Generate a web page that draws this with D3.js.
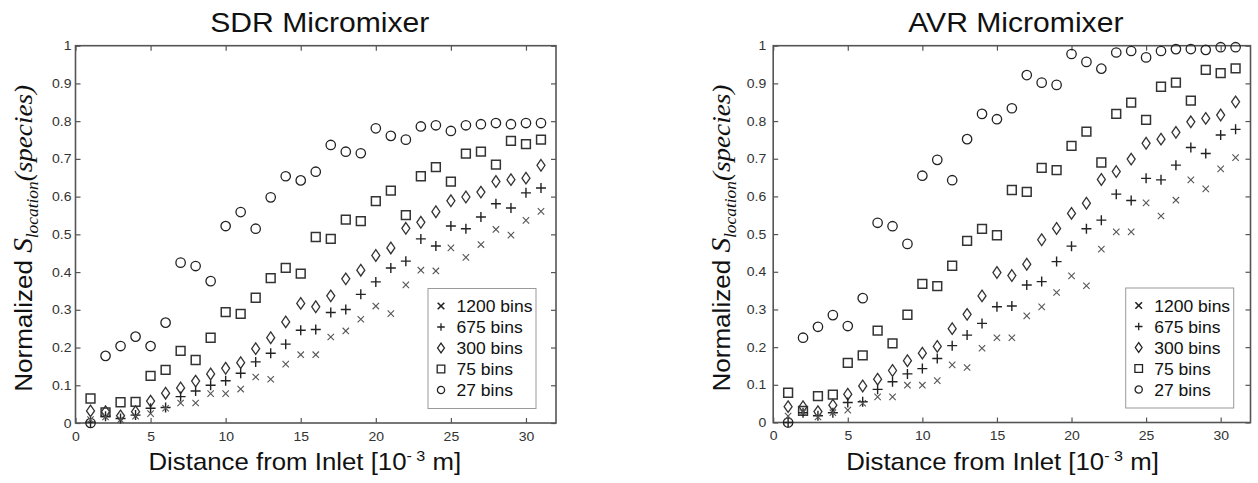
<!DOCTYPE html>
<html><head><meta charset="utf-8">
<script src="https://cdn.jsdelivr.net/npm/d3@7/dist/d3.min.js"></script>
<style>body{margin:0;background:#fff}svg{display:block}</style>
</head><body>
<svg id="chart" width="1258" height="483"></svg>
<script>
// ---------- data ----------
const distance = [1,2,3,4,5,6,7,8,9,10,11,12,13,14,15,16,17,18,19,20,21,22,23,24,25,26,27,28,29,30,31];
const titles = ["SDR Micromixer", "AVR Micromixer"];
const legendLabels = ["1200 bins", "675 bins", "300 bins", "75 bins", "27 bins"];
const xTicks = [0,5,10,15,20,25,30];
const yTicks = [0,0.1,0.2,0.3,0.4,0.5,0.6,0.7,0.8,0.9,1];

const sdr1200 = [0.009,0.016,0.009,0.018,0.025,0.039,0.053,0.053,0.078,0.078,0.090,0.122,0.116,0.156,0.181,0.181,0.228,0.244,0.275,0.310,0.290,0.366,0.405,0.403,0.464,0.439,0.473,0.513,0.498,0.537,0.561];
const sdr675  = [0.002,0.018,0.012,0.021,0.039,0.041,0.070,0.085,0.100,0.112,0.132,0.162,0.185,0.209,0.246,0.248,0.293,0.301,0.341,0.374,0.411,0.429,0.488,0.469,0.522,0.515,0.546,0.581,0.570,0.610,0.623];
const sdr300  = [0.032,0.030,0.019,0.030,0.058,0.079,0.093,0.111,0.130,0.145,0.160,0.197,0.226,0.268,0.317,0.308,0.337,0.382,0.405,0.444,0.464,0.516,0.532,0.560,0.589,0.599,0.612,0.640,0.645,0.649,0.683];
const sdr75   = [0.065,0.028,0.055,0.056,0.125,0.141,0.191,0.167,0.226,0.294,0.289,0.332,0.384,0.411,0.396,0.493,0.488,0.539,0.535,0.588,0.616,0.551,0.654,0.678,0.640,0.714,0.719,0.685,0.748,0.739,0.751];
const sdr27   = [0.000,0.178,0.204,0.229,0.204,0.266,0.425,0.416,0.376,0.522,0.559,0.515,0.598,0.654,0.643,0.666,0.737,0.719,0.715,0.781,0.761,0.751,0.786,0.789,0.774,0.789,0.792,0.795,0.792,0.795,0.795];

const avr1200 = [0.017,0.027,0.015,0.026,0.033,0.051,0.068,0.068,0.099,0.099,0.111,0.153,0.146,0.197,0.225,0.225,0.283,0.307,0.345,0.389,0.363,0.460,0.506,0.506,0.583,0.548,0.590,0.644,0.620,0.673,0.703];
const avr675  = [0.000,0.026,0.018,0.026,0.053,0.055,0.088,0.108,0.129,0.143,0.170,0.204,0.232,0.263,0.307,0.309,0.365,0.374,0.427,0.468,0.514,0.537,0.606,0.589,0.648,0.644,0.683,0.730,0.714,0.763,0.778];
const avr300  = [0.042,0.042,0.029,0.046,0.075,0.097,0.115,0.138,0.164,0.184,0.202,0.249,0.287,0.336,0.398,0.390,0.420,0.485,0.515,0.555,0.582,0.645,0.666,0.699,0.741,0.752,0.770,0.798,0.807,0.816,0.851];
const avr75   = [0.079,0.031,0.070,0.074,0.158,0.178,0.244,0.210,0.286,0.368,0.362,0.416,0.482,0.514,0.497,0.617,0.612,0.676,0.670,0.734,0.772,0.690,0.819,0.849,0.803,0.891,0.902,0.854,0.936,0.927,0.940];
const avr27   = [0.000,0.225,0.254,0.285,0.256,0.330,0.530,0.521,0.474,0.655,0.697,0.643,0.752,0.819,0.805,0.834,0.922,0.902,0.896,0.978,0.957,0.939,0.982,0.986,0.969,0.986,0.991,0.991,0.989,0.996,0.996];

// ---------- layout / style ----------
const SANS = "'Liberation Sans', Arial, Helvetica, sans-serif";
const SERIF = "'Liberation Serif', 'Times New Roman', serif";
const STRETCH = 1.075;
const panels = [
  {left: 75.5, right: 556, top: 45.7, bottom: 423, yPad: 4, title: titles[0],
   series: [sdr1200, sdr675, sdr300, sdr75, sdr27]},
  {left: 773.2, right: 1250.5, top: 45.7, bottom: 422.5, yPad: 7, title: titles[1],
   series: [avr1200, avr675, avr300, avr75, avr27]}
];
const markerKinds = ["x", "plus", "diamond", "square", "circle"];
const markerStyle = {
  x:       {size: 3.2, stroke: "#555", width: 1.1},
  plus:    {size: 5.0, stroke: "#222", width: 1.4},
  diamond: {size: 4.0, stroke: "#333", width: 1.3},
  square:  {size: 4.4, stroke: "#333", width: 1.5},
  circle:  {size: 4.7, stroke: "#222", width: 1.3}
};
function markerPath(kind, cx, cy, s) {
  const p = d3.path();
  if (kind === "x") { p.moveTo(cx-s, cy-s); p.lineTo(cx+s, cy+s); p.moveTo(cx-s, cy+s); p.lineTo(cx+s, cy-s); }
  else if (kind === "plus") { p.moveTo(cx-s, cy); p.lineTo(cx+s, cy); p.moveTo(cx, cy-s); p.lineTo(cx, cy+s); }
  else if (kind === "diamond") { const h = s*1.45; p.moveTo(cx, cy-h); p.lineTo(cx+s, cy); p.lineTo(cx, cy+h); p.lineTo(cx-s, cy); p.closePath(); }
  else if (kind === "square") { p.rect(cx-s, cy-s, 2*s, 2*s); }
  else { p.arc(cx, cy, s, 0, 2*Math.PI); p.closePath(); }
  return p.toString();
}
function stretch(sel, k) {
  sel.each(function() {
    const w = this.getComputedTextLength();
    if (w > 0) { this.setAttribute("textLength", (w*k).toFixed(2)); this.setAttribute("lengthAdjust", "spacingAndGlyphs"); }
  });
}

const svg = d3.select("#chart");
svg.append("rect").attr("width", 1258).attr("height", 483).attr("fill", "#fff");

panels.forEach(cfg => {
  const g = svg.append("g");
  const x = d3.scaleLinear().domain([0, 32]).range([cfg.left, cfg.right]);
  const y = d3.scaleLinear().domain([0, 1]).range([cfg.bottom, cfg.top]);
  const yFmt = d => (d === 0 ? "0" : d === 1 ? "1" : d3.format(".1f")(d));

  const axes = [
    g.append("g").attr("transform", `translate(0,${cfg.bottom})`)
      .call(d3.axisBottom(x).tickValues(xTicks).tickSizeInner(-5).tickSizeOuter(0).tickPadding(9).tickFormat(d3.format("d"))),
    g.append("g").attr("transform", `translate(0,${cfg.top})`)
      .call(d3.axisTop(x).tickValues(xTicks).tickSizeInner(-5).tickSizeOuter(0).tickFormat("")),
    g.append("g").attr("transform", `translate(${cfg.left},0)`)
      .call(d3.axisLeft(y).tickValues(yTicks).tickSizeInner(-5).tickSizeOuter(0).tickPadding(cfg.yPad).tickFormat(yFmt)),
    g.append("g").attr("transform", `translate(${cfg.right},0)`)
      .call(d3.axisRight(y).tickValues(yTicks).tickSizeInner(-5).tickSizeOuter(0).tickFormat(""))
  ];
  axes.forEach(a => {
    a.select(".domain").remove();
    a.selectAll(".tick line").attr("stroke", "#555").attr("stroke-width", 1.2);
    a.selectAll(".tick text").attr("font-family", SANS).attr("font-size", 12.5).attr("fill", "#333");
    stretch(a.selectAll(".tick text"), 1.12);
  });

  // frame
  g.append("rect").attr("x", cfg.left).attr("y", cfg.top)
    .attr("width", cfg.right - cfg.left).attr("height", cfg.bottom - cfg.top)
    .attr("fill", "none").attr("stroke", "#555").attr("stroke-width", 1.6);

  // data markers (draw 27 bins first, 1200 last)
  for (let si = cfg.series.length - 1; si >= 0; si--) {
    const kind = markerKinds[si];
    const st = markerStyle[kind];
    g.append("g").selectAll("path").data(cfg.series[si]).join("path")
      .attr("d", (v, i) => markerPath(kind, x(distance[i]), y(v), st.size))
      .attr("fill", "none").attr("stroke", st.stroke).attr("stroke-width", st.width);
  }

  // title
  const t = g.append("text").attr("x", (cfg.left + cfg.right)/2 + 4).attr("y", 32)
    .attr("text-anchor", "middle").attr("font-family", SANS).attr("font-size", 28).attr("fill", "#111").text(cfg.title);
  stretch(t, STRETCH);

  // x label
  const xl = g.append("text").attr("x", cfg.left + 73).attr("y", 470.5)
    .attr("font-family", SANS).attr("font-size", 24).attr("fill", "#111");
  xl.append("tspan").text("Distance from Inlet [10");
  xl.append("tspan").attr("font-size", 15).attr("dy", -9).text("- 3");
  xl.append("tspan").attr("dy", 9).text(" m]");
  {
    const w = xl.node().getComputedTextLength();
    xl.attr("transform", `translate(${cfg.left + 73},0) scale(${STRETCH},1) translate(${-(cfg.left + 73)},0)`);
  }

  // y label
  const cy = (cfg.top + cfg.bottom)/2 + 4;
  const yl = g.append("text").attr("text-anchor", "middle").attr("fill", "#111");
  yl.append("tspan").attr("font-family", SANS).attr("font-size", 24).text("Normalized ");
  yl.append("tspan").attr("font-family", SERIF).attr("font-style", "italic").attr("font-size", 27).text("S");
  yl.append("tspan").attr("font-family", SERIF).attr("font-style", "italic").attr("font-size", 16).attr("dy", 6).text("location");
  yl.append("tspan").attr("font-family", SERIF).attr("font-style", "italic").attr("font-size", 25).attr("dy", -6).text("(species)");
  const natural = yl.node().getComputedTextLength();
  const k = 307 / natural;
  yl.attr("transform", `translate(${cfg.left - 43.5},${cy}) rotate(-90) scale(${k},1)`);

  // legend
  const lx = cfg.left + 352.5, ly = cfg.bottom - 134.5;
  const lg = g.append("g");
  lg.append("rect").attr("x", lx).attr("y", ly).attr("width", 108).attr("height", 120)
    .attr("fill", "#fff").attr("stroke", "#999").attr("stroke-width", 1);
  const legSize = {x: 3.3, plus: 3.8, diamond: 3.4, square: 3.8, circle: 3.6};
  legendLabels.forEach((lab, i) => {
    const ry = ly + 17.5 + i*21;
    lg.append("path").attr("d", markerPath(markerKinds[i], lx + 13, ry, legSize[markerKinds[i]]))
      .attr("fill", "none").attr("stroke", "#222").attr("stroke-width", markerKinds[i] === "x" ? 1.6 : 1.3);
    const tt = lg.append("text").attr("x", lx + 28.5).attr("y", ry + 6.2)
      .attr("font-family", SANS).attr("font-size", 17).attr("fill", "#111").text(lab);
    stretch(tt, 1.03);
  });
});
</script>
</body></html>
